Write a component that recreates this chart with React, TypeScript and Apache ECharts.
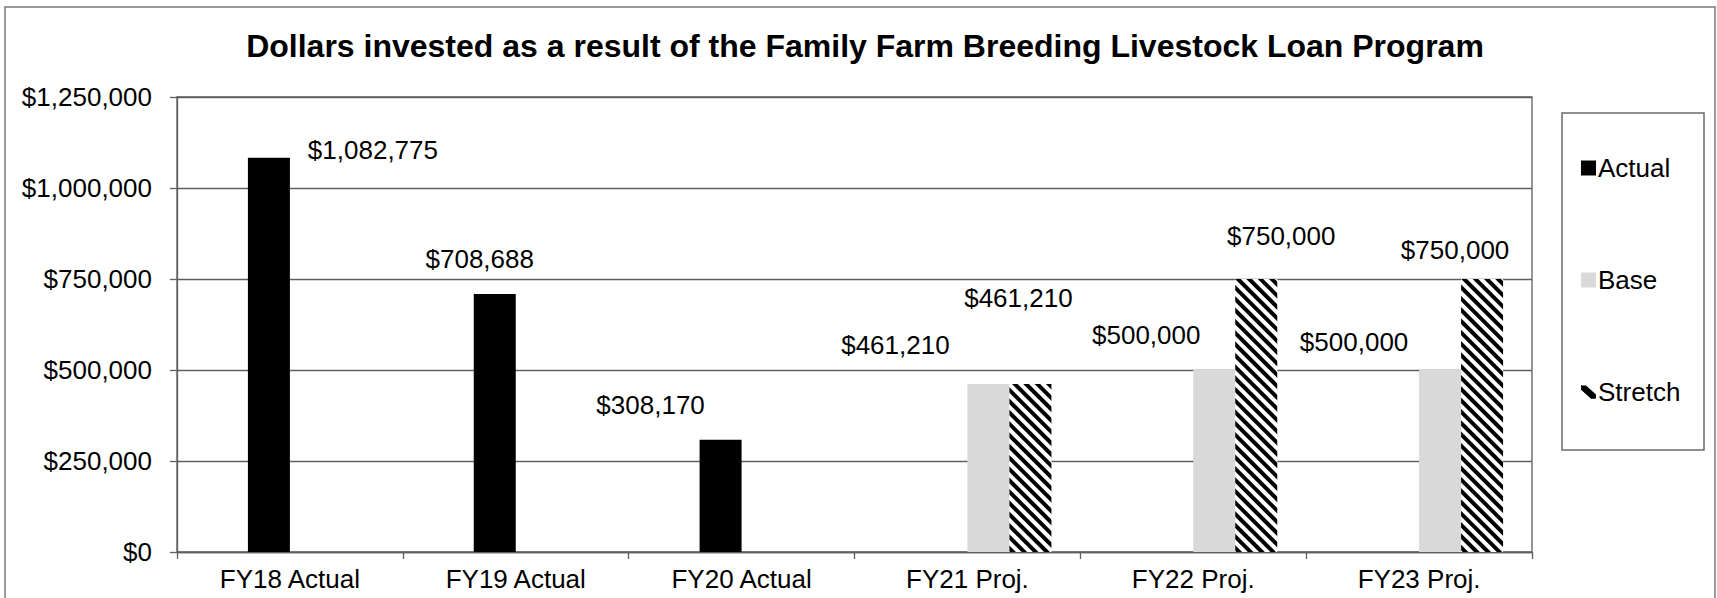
import React, { useEffect, useRef } from "react";
import * as echarts from "echarts";

const categories = ["FY18 Actual", "FY19 Actual", "FY20 Actual", "FY21 Proj.", "FY22 Proj.", "FY23 Proj."];
const actualValues: (number | null)[] = [1082775, 708688, 308170, null, null, null];
const baseValues: (number | null)[] = [null, null, null, 461210, 500000, 500000];
const stretchValues: (number | null)[] = [null, null, null, 461210, 750000, 750000];
const padValues: (number | null)[] = [null, null, null, null, null, null];
const yMin = 0;
const yMax = 1250000;
const yStep = 250000;

// manual label placement (label centre relative to bar top centre)
const actualLabelOffsets: (number[] | null)[] = [[104, -8], [-15, -35], [-70, -35], null, null, null];
const baseLabelOffsets: (number[] | null)[] = [null, null, null, [-93, -39], [-68, -35], [-86, -28]];
const stretchLabelOffsets: (number[] | null)[] = [null, null, null, [-12, -86], [25, -43], [-27, -29]];

const FONT = '"Liberation Sans", Arial, sans-serif';
const money = (v: number) => "$" + Math.round(v).toLocaleString("en-US");

function withLabels(values: (number | null)[], offsets: (number[] | null)[]) {
  return values.map((v, i) =>
    v == null
      ? null
      : {
          value: v,
          label: { offset: offsets[i] || [0, 0] },
        }
  );
}

const labelBase = {
  show: true,
  position: "top",
  distance: 0,
  verticalAlign: "middle",
  align: "center",
  fontSize: 26,
  fontFamily: FONT,
  color: "#000",
  formatter: (p: any) => money(p.value),
};

export default function App() {
  const ref = useRef<HTMLDivElement>(null);
  useEffect(() => {
    if (!ref.current) return;
    const chart = echarts.init(ref.current, null, { renderer: "svg" });
    const option: any = {
      animation: false,
      backgroundColor: "#fff",
      textStyle: { fontFamily: FONT },
      title: {
        text: "Dollars invested as a result of the Family Farm Breeding Livestock Loan Program",
        left: 865,
        top: 30,
        padding: 0,
        textAlign: "center",
        textStyle: { fontFamily: FONT, fontSize: 32, fontWeight: "bold", color: "#000" },
      },
      grid: {
        left: 177,
        right: 185,
        top: 97,
        bottom: 46,
        show: true,
        borderColor: "#5f5f5f",
        borderWidth: 1.3,
        containLabel: false,
      },
      legend: {
        orient: "vertical",
        left: 1581,
        top: 155,
        padding: 0,
        itemWidth: 15,
        itemHeight: 15,
        itemGap: 86,
        textStyle: { fontFamily: FONT, fontSize: 26, color: "#000", lineHeight: 26, padding: [0, 0, 0, -3] },
        data: [
          { name: "Actual", icon: "rect" },
          { name: "Base", icon: "rect" },
          {
            name: "Stretch",
            icon: "path://M0,0L5,0L15,9L15,13L10,13L0,4Z",
            itemStyle: { color: "#000" },
          },
        ],
      },
      graphic: [
        {
          type: "rect",
          silent: true,
          shape: { x: 5, y: 7, width: 1710, height: 700 },
          style: { fill: "none", stroke: "#7a7a7a", lineWidth: 1.5 },
        },
        {
          type: "rect",
          silent: true,
          shape: { x: 1562, y: 113, width: 142, height: 337 },
          style: { fill: "none", stroke: "#6a6a6a", lineWidth: 1.5 },
        },
      ],
      xAxis: {
        type: "category",
        data: categories,
        axisLine: { show: true, lineStyle: { color: "#5f5f5f", width: 1.3 } },
        axisTick: { show: true, length: 7, lineStyle: { color: "#5f5f5f", width: 1.3 } },
        axisLabel: { fontSize: 26, fontFamily: FONT, color: "#000", margin: 14 },
        splitLine: { show: false },
      },
      yAxis: {
        type: "value",
        min: yMin,
        max: yMax,
        interval: yStep,
        axisLine: { show: true, lineStyle: { color: "#5f5f5f", width: 1.3 } },
        axisTick: { show: true, length: 7, lineStyle: { color: "#5f5f5f", width: 1.3 } },
        axisLabel: { fontSize: 26, fontFamily: FONT, color: "#000", margin: 25, formatter: (v: number) => money(v) },
        splitLine: { show: true, lineStyle: { color: "#5f5f5f", width: 1.3 } },
      },
      series: [
        {
          name: "pad",
          type: "bar",
          data: padValues,
          barWidth: 42,
          barGap: "0%",
          itemStyle: { color: "#000" },
        },
        {
          name: "Actual",
          type: "bar",
          data: withLabels(actualValues, actualLabelOffsets),
          barWidth: 42,
          barGap: "0%",
          itemStyle: { color: "#000" },
          label: labelBase,
        },
        {
          name: "Base",
          type: "bar",
          data: withLabels(baseValues, baseLabelOffsets),
          barWidth: 42,
          barGap: "0%",
          itemStyle: { color: "#d9d9d9" },
          label: labelBase,
        },
        {
          name: "Stretch",
          type: "bar",
          data: withLabels(stretchValues, stretchLabelOffsets),
          barWidth: 42,
          barGap: "0%",
          itemStyle: {
            color: "#fff",
            decal: {
              symbol: "rect",
              symbolSize: 1,
              color: "#000",
              dashArrayX: [1, 0],
              dashArrayY: [4, 4],
              rotation: Math.PI / 4,
            },
          },
          label: labelBase,
        },
      ],
    };
    chart.setOption(option);
    return () => chart.dispose();
  }, []);
  return (
    <div
      ref={ref}
      style={{ position: "fixed", left: 0, top: 0, width: 1717, height: 598, background: "#fff" }}
    />
  );
}
